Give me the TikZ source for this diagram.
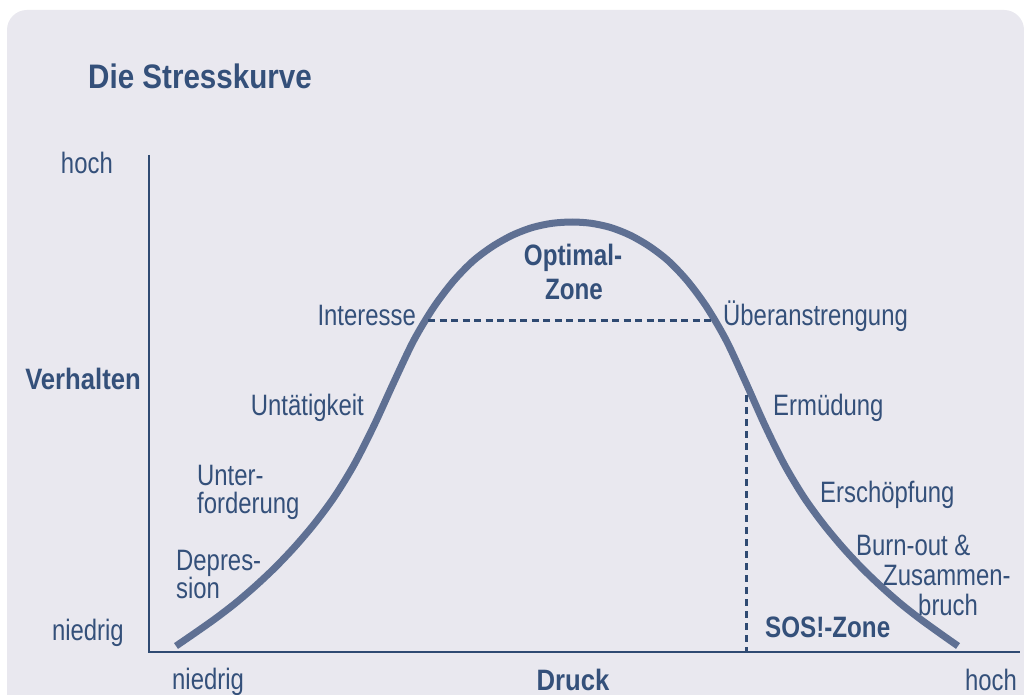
\documentclass[tikz,border=0pt]{standalone}
\usepackage{fontspec}
\setmainfont[FakeStretch=0.81]{Liberation Sans}
\newfontfamily\bld[FakeStretch=0.82]{Liberation Sans}
\newfontfamily\bldb[FakeStretch=0.87]{Liberation Sans}
\definecolor{bgc}{HTML}{E9E8EF}
\definecolor{txt}{HTML}{34507A}
\definecolor{crv}{HTML}{5F7093}
\definecolor{axc}{HTML}{2F4A72}
\tikzset{
  lbl/.style={inner sep=0pt, text=txt, font=\fontsize{29.5}{31}\selectfont},
  blbl/.style={inner sep=0pt, text=txt, font=\bld\bfseries\fontsize{29.5}{31}\selectfont},
  wblbl/.style={inner sep=0pt, text=txt, font=\bldb\bfseries\fontsize{29.5}{31}\selectfont},
  axis/.style={draw=axc, line width=2pt},
  curve/.style={draw=crv, line width=7pt},
  hdash/.style={draw=axc, line width=3pt, dash pattern=on 7pt off 4.5pt},
  vdash/.style={draw=axc, line width=3pt, dash pattern=on 7pt off 5pt}
}
\begin{document}
\begin{tikzpicture}[x=1pt,y=-1pt]
\useasboundingbox (0,0) rectangle (1024,695);
\fill[white] (0,0) rectangle (1024,695);
\begin{scope}
\clip (0,0) rectangle (1024,695);
\fill[bgc, rounded corners=20pt] (7,10) rectangle (1024,740);
\end{scope}
% title
\node[wblbl, anchor=base west, font=\bldb\bfseries\fontsize{34}{36}\selectfont] (title) at (88,89) {Die Stresskurve};
% axes
\coordinate (top) at (149,155);
\coordinate (org) at (149,652);
\coordinate (xend) at (1020,652);
\draw[axis] (top) -- (org) -- (xend);
% axis labels
\node[lbl, anchor=base east] (yhoch) at (113,174) {hoch};
\node[wblbl, anchor=base east] (yname) at (141,389) {Verhalten};
\node[lbl, anchor=base east] (ynied) at (124,640) {niedrig};
\node[lbl, anchor=base west] (xnied) at (172,689) {niedrig};
\node[wblbl, anchor=base] (xname) at (573,690) {Druck};
\node[lbl, anchor=base east] (xhoch) at (1017,690) {hoch};
% curve
\draw[curve] plot[smooth, tension=0.5] coordinates {
 (176,646) (195.8,632.4) (215.6,618.4) (235.4,603.2) (255.2,586.2)
 (275,567.6) (294.8,546.8) (314.6,523.5) (334.4,496.8) (354.2,464.5)
 (374,425.5) (393.8,382.3) (413.6,340.7) (433.4,307.6) (453.2,281.4)
 (473,261.0) (492.8,246.2) (512.6,235.1) (532.4,227.5) (552.2,223.3)
 (572,222)
 (591.3,223.3) (610.6,227.5) (629.9,235.1) (649.2,246.2) (668.5,261.0)
 (687.8,281.4) (707.1,307.6) (726.4,340.7) (745.7,382.3) (765,425.5)
 (784.3,464.5) (803.6,496.8) (822.9,523.5) (842.2,546.8) (861.5,567.6)
 (880.8,586.2) (900.1,603.2) (919.4,618.4) (938.7,632.4) (958,646)};
% dashed lines
\coordinate (dl) at (428,320);
\coordinate (dr) at (713,320);
\draw[hdash] (dl) -- (dr);
\coordinate (vt) at (746,395);
\coordinate (vb) at (746,652);
\draw[vdash] (vt) -- (vb);
% zone labels
\node[blbl, anchor=base] (opt1) at (573,265) {Optimal-};
\node[blbl, anchor=base] (opt2) at (574,299) {Zone};
\node[blbl, anchor=base west] (sos) at (765,637) {SOS!-Zone};
% curve labels
\node[lbl, anchor=base east] (l1) at (416,325) {Interesse};
\node[lbl, anchor=base west] (l2) at (723,325) {Überanstrengung};
\node[lbl, anchor=base east] (l3) at (364,415) {Untätigkeit};
\node[lbl, anchor=base west] (l4a) at (197,485) {Unter-};
\node[lbl, anchor=base west] (l4b) at (197,513) {forderung};
\node[lbl, anchor=base west] (l5a) at (176,570) {Depres-};
\node[lbl, anchor=base west] (l5b) at (176,598) {sion};
\node[lbl, anchor=base west] (l6) at (773,415) {Ermüdung};
\node[lbl, anchor=base west] (l7) at (820,502) {Erschöpfung};
\node[lbl, anchor=base west] (l8a) at (856,555) {Burn-out \&};
\node[lbl, anchor=base west] (l8b) at (883,585) {Zusammen-};
\node[lbl, anchor=base west] (l8c) at (918,615) {bruch};
\end{tikzpicture}
\end{document}
